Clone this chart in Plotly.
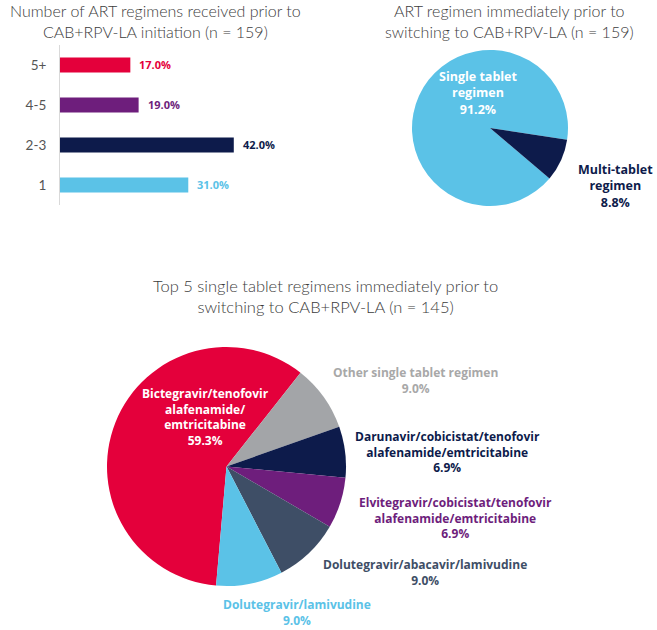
import plotly.graph_objects as go

# ---------------- data ----------------
bar_categories = ["1", "2-3", "4-5", "5+"]
bar_values = [31.0, 42.0, 19.0, 17.0]
bar_colors = ["#5BC2E7", "#0D1B4B", "#6E1E7C", "#E4003B"]

pie1_labels = ["Single tablet regimen", "Multi-tablet regimen"]
pie1_values = [91.2, 8.8]
pie1_colors = ["#5BC2E7", "#0D1B4B"]

pie2_labels = [
    "Bictegravir/tenofovir alafenamide/emtricitabine",
    "Other single tablet regimen",
    "Darunavir/cobicistat/tenofovir alafenamide/emtricitabine",
    "Elvitegravir/cobicistat/tenofovir alafenamide/emtricitabine",
    "Dolutegravir/abacavir/lamivudine",
    "Dolutegravir/lamivudine",
]
pie2_values = [59.3, 9.0, 6.9, 6.9, 9.0, 9.0]
pie2_colors = ["#E4003B", "#A3A5A8", "#0D1B4B", "#6E1E7C", "#3E4E66", "#5BC2E7"]

titles = [
    "Number of ART regimens received prior to<br>CAB+RPV-LA initiation (n = 159)",
    "ART regimen immediately prior to<br>switching to CAB+RPV-LA (n = 159)",
    "Top 5 single tablet regimens immediately prior to<br>switching to CAB+RPV-LA (n = 145)",
]

W, H = 657, 630
TITLE_FONT = "Lato"
LABEL_FONT = "Open Sans"


def px(x):
    return x / W


def py(y):
    return 1 - y / H


fig = go.Figure()

# bar chart
fig.add_trace(go.Bar(
    x=bar_values, y=bar_categories, orientation="h",
    marker=dict(color=bar_colors, line=dict(width=0)),
    width=0.38, hoverinfo="skip", showlegend=False,
))

# pie 1
fig.add_trace(go.Pie(
    labels=pie1_labels, values=pie1_values, sort=False,
    direction="clockwise", rotation=130.3,
    marker=dict(colors=pie1_colors, line=dict(width=0)),
    textinfo="none", hoverinfo="skip", showlegend=False,
    domain=dict(x=[px(412), px(568)], y=[py(206), py(50)]),
))

# pie 2
fig.add_trace(go.Pie(
    labels=pie2_labels, values=pie2_values, sort=False,
    direction="clockwise", rotation=185,
    marker=dict(colors=pie2_colors, line=dict(width=0)),
    textinfo="none", hoverinfo="skip", showlegend=False,
    domain=dict(x=[px(107), px(346)], y=[py(586), py(347)]),
))

annotations = []

# titles
title_pos = [(155, 21), (509, 21), (325, 296)]
title_size = [16, 16, 16.5]
for t, (x, y), s in zip(titles, title_pos, title_size):
    annotations.append(dict(
        text=t, x=px(x), y=py(y), xref="paper", yref="paper",
        xanchor="center", yanchor="middle", showarrow=False,
        font=dict(family=TITLE_FONT, size=s, color="#3C3C3C", weight=300),
    ))

# bar value labels (y given as category index)
for i, (val, col) in enumerate(zip(bar_values, bar_colors)):
    annotations.append(dict(
        text=f"<b>{val:.1f}%</b>", x=val, y=i, xref="x", yref="y",
        xanchor="left", yanchor="middle", xshift=7, showarrow=False,
        font=dict(family=LABEL_FONT, size=11, color=col),
    ))


def add_block(lines, x, y, color, size):
    annotations.append(dict(
        text="<b>" + "<br>".join(lines) + "</b>", x=px(x), y=py(y),
        xref="paper", yref="paper", align="center",
        xanchor="center", yanchor="middle", showarrow=False,
        font=dict(family=LABEL_FONT, size=size, color=color),
    ))


# pie 1 labels
pie1_text = [["Single tablet", "regimen"], ["Multi-tablet", "regimen"]]
pie1_pos = [(478, 93), (615, 186)]
pie1_tcol = ["#FFFFFF", "#0D1B4B"]
for t, v, (x, y), c in zip(pie1_text, pie1_values, pie1_pos, pie1_tcol):
    add_block(t + [f"{v:.1f}%"], x, y, c, 12.5)

# pie 2 labels
pie2_text = [
    ["Bictegravir/tenofovir", "alafenamide/", "emtricitabine"],
    ["Other single tablet regimen"],
    ["Darunavir/cobicistat/tenofovir", "alafenamide/emtricitabine"],
    ["Elvitegravir/cobicistat/tenofovir", "alafenamide/emtricitabine"],
    ["Dolutegravir/abacavir/lamivudine"],
    ["Dolutegravir/lamivudine"],
]
pie2_pos = [(205, 417), (415, 380), (447, 452), (455, 518), (425, 572), (297, 612)]
pie2_tcol = ["#FFFFFF", "#A8A8A8", "#0D1B4B", "#6E1E7C", "#3E4E66", "#5BC2E7"]
for t, v, (x, y), c in zip(pie2_text, pie2_values, pie2_pos, pie2_tcol):
    add_block(t + [f"{v:.1f}%"], x, y, c, 12)

fig.update_layout(
    width=W, height=H, autosize=False,
    margin=dict(l=0, r=0, t=0, b=0),
    paper_bgcolor="white", plot_bgcolor="white",
    font=dict(family=TITLE_FONT),
    xaxis=dict(domain=[px(60), px(300)], range=[0, 58], visible=False, fixedrange=True),
    yaxis=dict(
        domain=[py(205), py(45)], type="category",
        categoryorder="array", categoryarray=bar_categories,
        showline=True, linecolor="#D9D9D9", linewidth=1,
        showgrid=False, zeroline=False,
        ticks="outside", ticklen=10, tickcolor="rgba(0,0,0,0)",
        tickfont=dict(family=TITLE_FONT, size=13.5, color="#555555"),
    ),
    annotations=annotations,
)

fig.write_html("out.html")
